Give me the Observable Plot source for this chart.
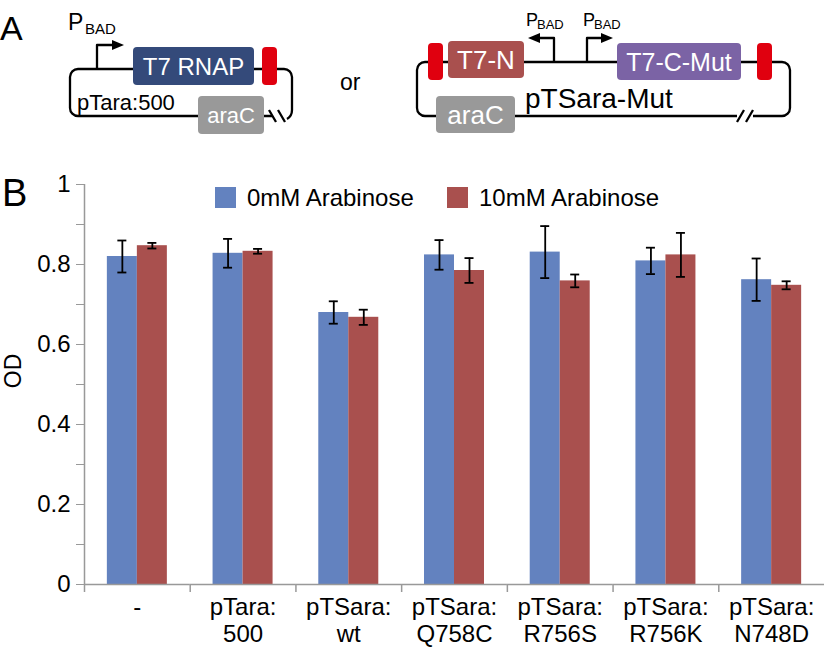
<!DOCTYPE html>
<html><head><meta charset="utf-8">
<script src="https://cdn.jsdelivr.net/npm/d3@7"></script>
<script src="https://cdn.jsdelivr.net/npm/@observablehq/plot@0.6"></script>
<style>
body{margin:0;background:#fff;}
#wrap{position:relative;width:826px;height:648px;overflow:hidden;font-family:"Liberation Sans",Arial,sans-serif;}
#chart{position:absolute;left:0;top:160px;}
#overlay{position:absolute;left:0;top:0;}
</style></head><body>
<div id="wrap"><div id="chart"></div><svg id="overlay" width="826" height="648"></svg></div>
<script>
// ---- data ----
const categories = ["-", "pTara:\n500", "pTSara:\nwt", "pTSara:\nQ758C", "pTSara:\nR756S", "pTSara:\nR756K", "pTSara:\nN748D"];
const series = ["0mM Arabinose", "10mM Arabinose"];
const od0   = [0.820, 0.828, 0.680, 0.824, 0.831, 0.809, 0.762];
const err0  = [0.040, 0.036, 0.028, 0.037, 0.065, 0.033, 0.053];
const od10  = [0.847, 0.833, 0.668, 0.785, 0.759, 0.824, 0.748];
const err10 = [0.007, 0.006, 0.019, 0.031, 0.016, 0.055, 0.010];
const yTickValues = [0, 0.1, 0.2, 0.3, 0.4, 0.5, 0.6, 0.7, 0.8, 0.9, 1];
const yTickLabels = ["0", "", "0.2", "", "0.4", "", "0.6", "", "0.8", "", "1"];
const yLabel = "OD";
const colors = ["#6382bf", "#a9504e"];

const FONT = '"Liberation Sans", Arial, sans-serif';

const rows = categories.flatMap((c, i) => [
  {cat: c, s: series[0], v: od0[i], e: err0[i]},
  {cat: c, s: series[1], v: od10[i], e: err10[i]}
]);

const width = 826, height = 488, mL = 84, mR = 2, mT = 24, mB = 64;
const facetW = (width - mL - mR) / categories.length;
const barW = 30;
const padOuter = (facetW / barW - 2) / 2;
const edgeDx = -(padOuter * barW + barW / 2);

const plot = Plot.plot({
  width, height, marginLeft: mL, marginRight: mR, marginTop: mT, marginBottom: mB,
  style: {fontFamily: FONT, fontSize: "24px", color: "#000", background: "transparent"},
  fx: {domain: categories, padding: 0, round: false, label: null},
  x: {domain: series, paddingInner: 0, paddingOuter: padOuter, round: false, axis: null},
  y: {domain: [0, 1]},
  color: {domain: series, range: colors},
  marks: [
    Plot.barY(rows, {fx: "cat", x: "s", y: "v", fill: "s", inset: 0}),
    Plot.ruleY([0], {stroke: "#999", strokeWidth: 1.5}),
    Plot.ruleX([series[0]], {x: d => d, y1: 0, y2: -0.02, dx: edgeDx, stroke: "#999", strokeWidth: 1.5}),
    Plot.ruleX([series[0]], {x: d => d, y1: 0, y2: 1, dx: edgeDx, stroke: "#999", strokeWidth: 1.5, facetAnchor: "left"}),
    Plot.ruleX(rows, {fx: "cat", x: "s", y1: d => d.v - d.e, y2: d => d.v + d.e, stroke: "#000", strokeWidth: 1.8}),
    Plot.tickY(rows, {fx: "cat", x: "s", y: d => d.v + d.e, stroke: "#000", strokeWidth: 1.8, insetLeft: 10.5, insetRight: 10.5}),
    Plot.tickY(rows, {fx: "cat", x: "s", y: d => d.v - d.e, stroke: "#000", strokeWidth: 1.8, insetLeft: 10.5, insetRight: 10.5}),
    Plot.axisY({ticks: yTickValues, tickFormat: d => yTickLabels[yTickValues.indexOf(d)], tickSize: 8, tickPadding: 6,
      stroke: "#999", fill: "#000", fontSize: 24, label: null}),
    Plot.axisFx({anchor: "bottom", tickSize: 0, tickPadding: 12, fontSize: 24, lineHeight: 1.1, label: null, fill: "#000"})
  ]
});
document.getElementById("chart").append(plot);

// ---- overlay: panel letters, axis title, legend, plasmid diagram ----
const svg = d3.select("#overlay");
function txt(x, y, s, size, opts = {}) {
  return svg.append("text").attr("x", x).attr("y", y).attr("font-size", size)
    .attr("font-family", FONT).attr("fill", opts.fill || "#000")
    .attr("text-anchor", opts.anchor || "start").text(s);
}
function box(x, y, w, h, fill, label, size) {
  svg.append("rect").attr("x", x).attr("y", y).attr("width", w).attr("height", h)
    .attr("rx", 4).attr("fill", fill);
  if (label) txt(x + w / 2, y + h / 2 + size * 0.36, label, size, {fill: "#fff", anchor: "middle"});
}
function line(d) {
  svg.append("path").attr("d", d).attr("fill", "none").attr("stroke", "#000")
    .attr("stroke-width", 2.3).attr("stroke-linejoin", "round");
}
function head(points) {
  svg.append("polygon").attr("points", points).attr("fill", "#000");
}

// letters
txt(0, 40, "A", 34);
txt(2, 206, "B", 38);
txt(340, 90, "or", 23);

// y axis title
txt(0, 0, yLabel, 23, {anchor: "middle"}).attr("transform", "translate(21,371) rotate(-90)");

// legend
series.forEach((s, i) => {
  const x0 = [215, 447][i];
  svg.append("rect").attr("x", x0).attr("y", 187).attr("width", 21).attr("height", 21).attr("fill", colors[i]);
  txt(x0 + 32, 206, s, 24);
});

// left plasmid
line("M272,116 H78 A8,8 0 0 1 70,108 V77 A8,8 0 0 1 78,69 H284 A8,8 0 0 1 292,77 V110 Q292,116 287,119");
line("M269,110 L276,122 M278,110 L285,122");
line("M97,69 V45 H113"); head("112,40 124,45 112,50");
txt(68, 30, "P", 23); txt(85, 34, "BAD", 15);
box(133, 47, 121, 38, "#344a7a", "T7 RNAP", 24);
box(262, 47, 15, 38, "#e0000f");
txt(77, 110, "pTara:500", 22);
box(198, 96, 66, 38, "#999999", "araC", 22);

// right plasmid
line("M737,116 H425 A8,8 0 0 1 417,108 V70 A8,8 0 0 1 425,62 H782 A8,8 0 0 1 790,70 V108 A8,8 0 0 1 782,116 H753");
line("M737,122 L744,110 M746,122 L753,110");
line("M554,62 V38 H539"); head("540,33 528,38 540,43");
line("M587,62 V38 H602"); head("601,33 613,38 601,43");
txt(526, 26, "P", 18); txt(537, 29, "BAD", 13);
txt(583, 26, "P", 18); txt(594, 29, "BAD", 13);
box(428, 43, 15, 37, "#e0000f");
box(448, 41, 76, 37, "#a9504e", "T7-N", 26);
box(617, 43, 124, 37, "#7b63a5", "T7-C-Mut", 25);
box(757, 43, 15, 37, "#e0000f");
txt(525, 108, "pTSara-Mut", 28);
box(436, 96, 79, 37, "#999999", "araC", 26);
</script></body></html>
